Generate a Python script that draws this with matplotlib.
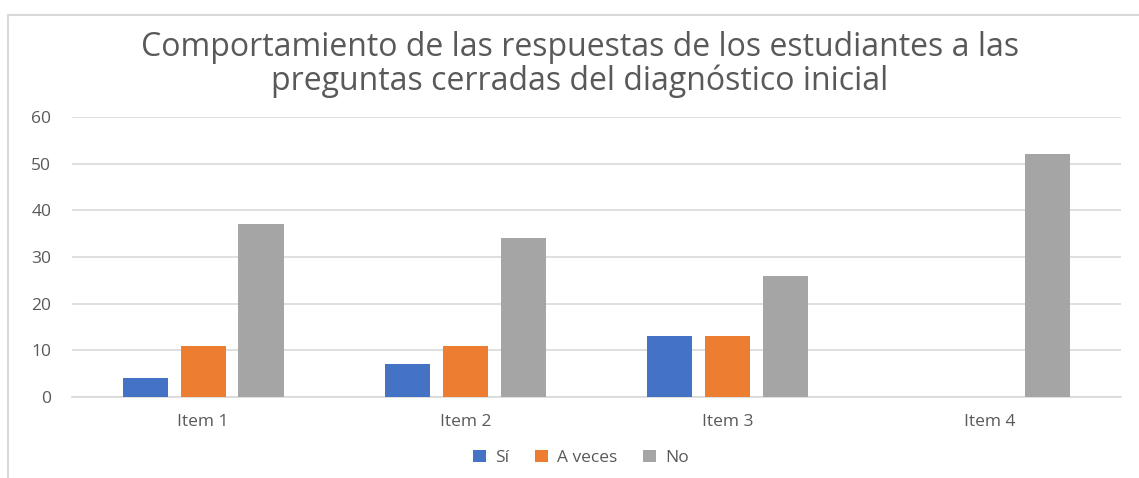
import matplotlib.pyplot as plt
from matplotlib.lines import Line2D
import numpy as np

categories = ["Item 1", "Item 2", "Item 3", "Item 4"]
si = [4, 7, 13, 0]
a_veces = [11, 11, 13, 0]
no = [37, 34, 26, 52]

plt.rcParams['font.family'] = ['Open Sans', 'DejaVu Sans']
txt = "#595959"

fig = plt.figure(figsize=(11.39, 4.78), dpi=100)
ax = fig.add_axes([0.0632, 0.1695, 0.9208, 0.5857])

x = np.arange(len(categories))
w = 0.172
off = 0.221
ax.bar(x - off, si, w, color="#4472C4", label="Sí", zorder=3)
ax.bar(x, a_veces, w, color="#ED7D31", label="A veces", zorder=3)
ax.bar(x + off, no, w, color="#A5A5A5", label="No", zorder=3)

ax.set_xlim(-0.5, 3.5)
ax.set_ylim(0, 60)
ax.set_yticks(range(0, 61, 10))
ax.set_xticks(x)
ax.set_xticklabels(categories)
ax.grid(axis="y", color="#D9D9D9", lw=1.2, zorder=0)
for s in ["top", "right", "left"]:
    ax.spines[s].set_visible(False)
ax.spines["bottom"].set_color("#D9D9D9")
ax.spines["bottom"].set_linewidth(1.2)
ax.tick_params(axis="both", length=0, labelsize=12.5, colors=txt)
ax.tick_params(axis="y", pad=15)
ax.tick_params(axis="x", pad=12)

fig.text(0.509, 0.865, "Comportamiento de las respuestas de los estudiantes a las\npreguntas cerradas del diagnóstico inicial",
         ha="center", va="center", fontsize=23, color=txt, linespacing=1.05)

fig.legend(loc="center", bbox_to_anchor=(0.51, 0.042), ncol=3, frameon=False,
           fontsize=12.5, labelcolor=txt, handlelength=0.75, handleheight=0.75,
           handletextpad=0.5, columnspacing=1.5)

# chart border (top and left only, as cropped)
fig.add_artist(Line2D([8 / 1139, 1], [1 - 15 / 478, 1 - 15 / 478], color="#D9D9D9", lw=1.5))
fig.add_artist(Line2D([8 / 1139, 8 / 1139], [0, 1 - 15 / 478], color="#D9D9D9", lw=1.5))

fig.savefig("out.png", dpi=100)
